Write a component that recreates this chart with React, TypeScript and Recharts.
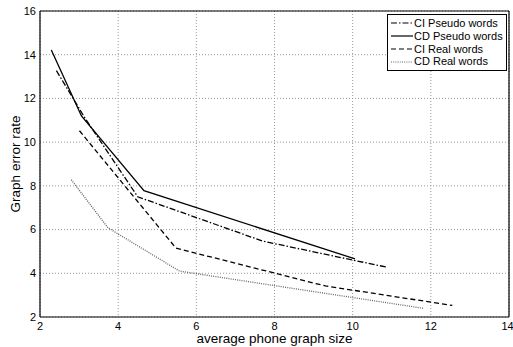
import React from 'react';
import { LineChart, Line, XAxis, YAxis, CartesianGrid, Legend } from 'recharts';

const X_TICKS = [2, 4, 6, 8, 10, 12, 14];
const Y_TICKS = [2, 4, 6, 8, 10, 12, 14, 16];

const CI_PSEUDO_X = [2.42, 3.15, 4.5, 7.7, 10.87];
const CI_PSEUDO_Y = [13.27, 11.1, 7.5, 5.47, 4.28];
const CD_PSEUDO_X = [2.29, 3.06, 4.66, 10.06];
const CD_PSEUDO_Y = [14.22, 11.2, 7.78, 4.66];
const CI_REAL_X = [3.01, 5.48, 9.3, 12.55];
const CI_REAL_Y = [10.52, 5.15, 3.42, 2.53];
const CD_REAL_X = [2.8, 3.74, 5.57, 11.8];
const CD_REAL_Y = [8.28, 6.08, 4.1, 2.4];

const toPoints = (xs: number[], ys: number[]) => xs.map((x, i) => ({ x, y: ys[i] }));

const FONT = '"Liberation Sans", Arial, Helvetica, sans-serif';

const SERIES = [
  { name: 'CI Pseudo words', data: toPoints(CI_PSEUDO_X, CI_PSEUDO_Y), color: '#000', dash: '6 2 1.5 2' },
  { name: 'CD Pseudo words', data: toPoints(CD_PSEUDO_X, CD_PSEUDO_Y), color: '#000', dash: undefined },
  { name: 'CI Real words', data: toPoints(CI_REAL_X, CI_REAL_Y), color: '#000', dash: '5 3' },
  { name: 'CD Real words', data: toPoints(CD_REAL_X, CD_REAL_Y), color: '#666', dash: '1 1.2' },
];

const tickStyle = { fontSize: 11, fill: '#000', fontFamily: FONT };

const XLabel = ({ viewBox }: any) => (
  <text
    x={viewBox.x + viewBox.width / 2}
    y={viewBox.y + 21}
    textAnchor="middle"
    dominantBaseline="central"
    fontSize={13.5}
    fontFamily={FONT}
    fill="#000"
  >
    average phone graph size
  </text>
);

const YLabel = ({ viewBox }: any) => {
  const cx = viewBox.x + 15;
  const cy = viewBox.y + viewBox.height / 2;
  return (
    <text
      x={cx}
      y={cy}
      transform={`rotate(-90 ${cx} ${cy})`}
      textAnchor="middle"
      dominantBaseline="central"
      fontSize={13.5}
      fontFamily={FONT}
      fill="#000"
    >
      Graph error rate
    </text>
  );
};

const LegendBox = () => (
  <div
    style={{
      border: '1px solid #000',
      background: '#fff',
      padding: '2px 1px 2px 3px',
      fontSize: 11,
      fontFamily: FONT,
      lineHeight: '12.8px',
      width: 114,
    }}
  >
    {SERIES.map((s) => (
      <div key={s.name} style={{ display: 'flex', alignItems: 'center', whiteSpace: 'nowrap' }}>
        <svg width={22} height={8} style={{ flex: 'none' }}>
          <line x1={0} y1={4} x2={22} y2={4} stroke={s.color} strokeWidth={1.2} strokeDasharray={s.dash} />
        </svg>
        <span style={{ marginLeft: 1 }}>{s.name}</span>
      </div>
    ))}
  </div>
);

export default function App() {
  return (
    <div style={{ position: 'absolute', left: 0, top: 0, background: '#fff' }}>
      <LineChart width={513} height={347} margin={{ top: 11, right: 4, bottom: 0, left: 0 }}>
        <CartesianGrid xAxisId="b" yAxisId="l" stroke="#999" strokeDasharray="1 2" />
        <XAxis
          xAxisId="b"
          type="number"
          dataKey="x"
          domain={[2, 14]}
          ticks={X_TICKS}
          height={30}
          tickLine={false}
          tickSize={3}
          tickMargin={2}
          tick={tickStyle}
          axisLine={{ stroke: '#000', strokeWidth: 1.2 }}
          allowDataOverflow
          label={<XLabel />}
        />
        <XAxis xAxisId="bt" type="number" dataKey="x" domain={[2, 14]} ticks={X_TICKS} mirror tick={false} tickSize={4} tickLine={{ stroke: '#000' }} axisLine={false} />
        <XAxis xAxisId="t" orientation="top" type="number" dataKey="x" domain={[2, 14]} ticks={X_TICKS} mirror tick={false} tickSize={4} tickLine={{ stroke: '#000' }} axisLine={{ stroke: '#000', strokeWidth: 1.2 }} />
        <YAxis
          yAxisId="l"
          type="number"
          domain={[2, 16]}
          ticks={Y_TICKS}
          width={40}
          tickLine={false}
          tickSize={2}
          tickMargin={2}
          tick={tickStyle}
          axisLine={{ stroke: '#000', strokeWidth: 1.2 }}
          allowDataOverflow
          label={<YLabel />}
        />
        <YAxis yAxisId="lt" type="number" domain={[2, 16]} ticks={Y_TICKS} mirror tick={false} tickSize={4} tickLine={{ stroke: '#000' }} axisLine={false} />
        <YAxis yAxisId="r" orientation="right" type="number" domain={[2, 16]} ticks={Y_TICKS} mirror tick={false} tickSize={4} tickLine={{ stroke: '#000' }} axisLine={{ stroke: '#000', strokeWidth: 1.2 }} />
        {SERIES.map((s) => (
          <Line
            key={s.name}
            xAxisId="b"
            yAxisId="l"
            data={s.data}
            dataKey="y"
            name={s.name}
            type="linear"
            stroke={s.color}
            strokeWidth={1.3}
            strokeDasharray={s.dash}
            dot={false}
            activeDot={false}
            isAnimationActive={false}
          />
        ))}
        <Legend
          layout="vertical"
          align="center"
          verticalAlign="middle"
          content={() => <LegendBox />}
          wrapperStyle={{ position: 'absolute', left: 387, top: 14, width: 'auto', height: 'auto' }}
        />
      </LineChart>
    </div>
  );
}
